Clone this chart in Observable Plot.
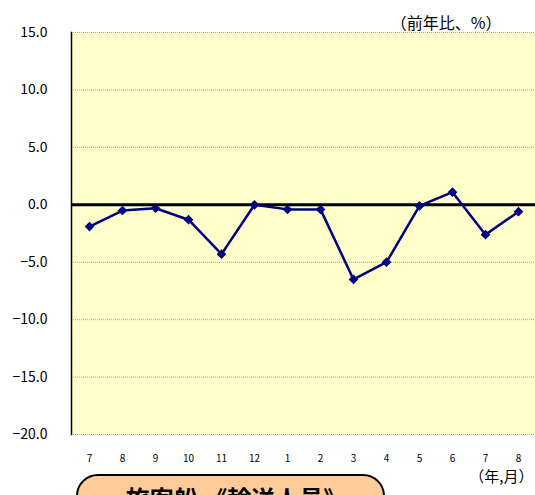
<!DOCTYPE html>
<html>
<head>
<meta charset="utf-8">
<script src="https://cdn.jsdelivr.net/npm/d3@7"></script>
<script src="https://cdn.jsdelivr.net/npm/@observablehq/plot@0.6"></script>
<style>
  html, body { margin: 0; padding: 0; background: #fff; overflow: hidden; }
  #wrap { position: relative; width: 535px; height: 495px; font-family: "Noto Sans CJK JP", sans-serif; }
  #box {
    position: absolute; left: 76px; top: 474px; width: 309px; height: 44px;
    border: 2px solid #000; border-radius: 22px; background: #FFCC99;
    text-align: center; font-weight: bold; font-size: 24px; line-height: 24px;
    padding-top: 10px; padding-left: 12px; box-sizing: border-box;
  }
</style>
</head>
<body>
<div id="wrap"><div id="box">旅客船 《輸送人員》</div></div>
<script>
const months = ["7","8","9","10","11","12","1","2","3","4","5","6","7","8"];
const values = [-1.9, -0.5, -0.3, -1.3, -4.3, 0.0, -0.4, -0.4, -6.5, -5.0, -0.1, 1.1, -2.6, -0.6];
const yTicks = [-20, -15, -10, -5, 0, 5, 10, 15];
const yUnit = "（前年比、%）";
const xUnit = "（年,月）";

const data = values.map((v, i) => ({i, v}));

const chart = Plot.plot({
  width: 535,
  height: 495,
  marginTop: 32,
  marginBottom: 61,
  marginLeft: 71,
  marginRight: 0,
  style: {fontFamily: "'Noto Sans CJK JP', sans-serif", background: "transparent"},
  x: {type: "point", domain: months.map((_, i) => i), padding: 0.5, axis: null},
  y: {domain: [-20, 15], axis: null},
  marks: [
    Plot.frame({fill: "#FFFFCC", stroke: null}),
    Plot.ruleY(yTicks.filter(d => d !== 0), {stroke: "#a8a898", strokeWidth: 1, strokeDasharray: "1,1"}),
    Plot.ruleY([0], {stroke: "#000", strokeWidth: 3}),
    Plot.frame({anchor: "left", stroke: "#000", strokeWidth: 1.5}),
    Plot.axisY(yTicks, {label: null, tickSize: 0, tickPadding: 24, fontSize: 14, fill: "#000", tickFormat: d3.format(".1f")}),
    Plot.axisX(months.map((_, i) => i), {label: null, tickSize: 0, tickPadding: 20, fontSize: 10, fill: "#000", tickFormat: i => months[i]}),
    Plot.line(data, {x: "i", y: "v", stroke: "#000080", strokeWidth: 2.5}),
    Plot.dot(data, {x: "i", y: "v", symbol: "square", r: 3.3, rotate: 45, fill: "#000080", stroke: "#000080", strokeWidth: 1}),
    Plot.text([yUnit], {frameAnchor: "top-right", dx: -34, dy: -15, textAnchor: "end", fontSize: 16, fill: "#000"}),
    Plot.text([xUnit], {frameAnchor: "bottom-right", dx: -2, dy: 47, textAnchor: "end", fontSize: 15, fill: "#000"})
  ]
});
const wrap = document.getElementById("wrap");
wrap.insertBefore(chart, wrap.firstChild);
chart.style.position = "absolute";
chart.style.left = "0";
chart.style.top = "0";
</script>
</body>
</html>
